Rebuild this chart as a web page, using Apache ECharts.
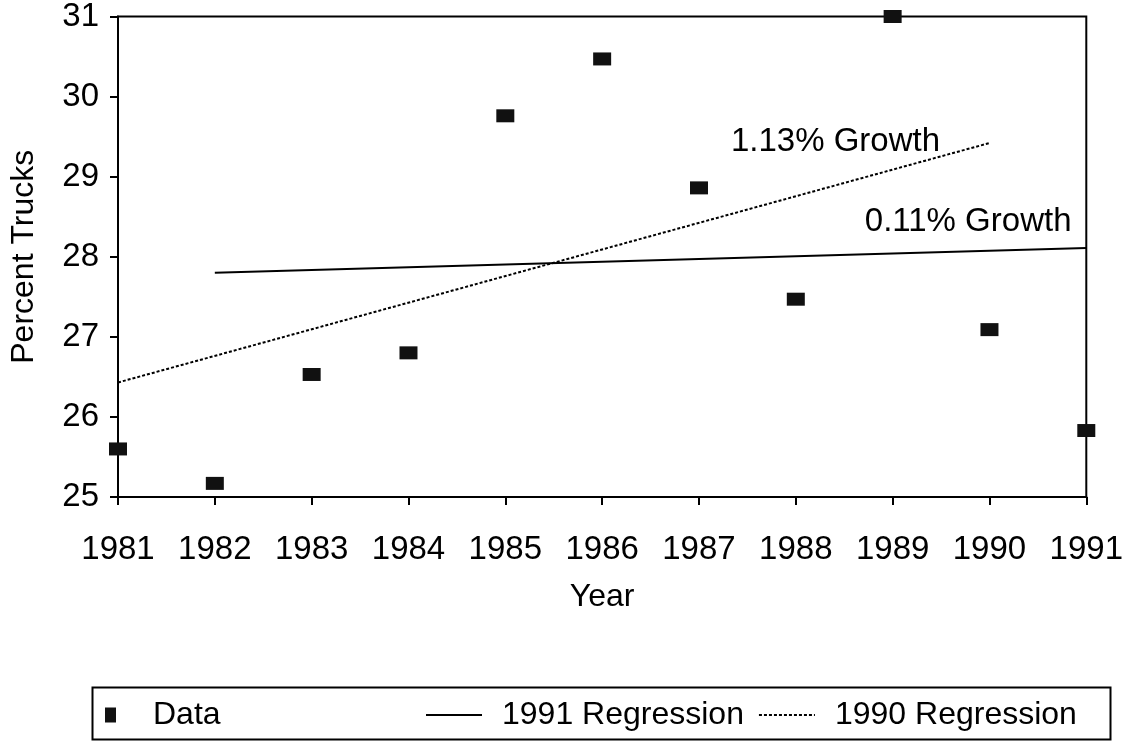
<!DOCTYPE html>
<html>
<head>
    <meta charset="utf-8">
    <title>Percent Trucks</title>
    <script src="https://cdn.jsdelivr.net/npm/echarts/dist/echarts.min.js"></script>
    <style>
        html, body { margin: 0; padding: 0; background: #fff; }
    </style>
</head>
<body>
<div id="main" style="width: 1126px; height: 753px;"></div>
<script type="text/javascript">
    // observed share of trucks per year
    var years = [1981, 1982, 1983, 1984, 1985, 1986, 1987, 1988, 1989, 1990, 1991];
    var percentTrucks = [25.60, 25.17, 26.53, 26.80, 29.76, 30.47, 28.86, 27.47, 31.00, 27.09, 25.83];

    // regression lines (end points)
    var reg1991Years = [1982, 1991];
    var reg1991Values = [27.80, 28.11];
    var reg1990Years = [1981, 1990];
    var reg1990Values = [26.43, 29.42];

    var growth1990 = '1.13% Growth';
    var growth1991 = '0.11% Growth';

    var font = 'Liberation Sans';
    var fs = 32;
    var tickFs = 33;

    function pairs(xs, ys) {
        var d = [];
        for (var i = 0; i < xs.length; i++) {
            d.push([xs[i], ys[i]]);
        }
        return d;
    }

    var myChart = echarts.init(document.getElementById('main'));

    var option = {
        backgroundColor: '#fff',
        animation: false,
        textStyle: { fontFamily: font, color: '#000' },
        grid: {
            left: 113,
            right: 30,
            top: 14,
            bottom: 256,
            show: true,
            borderColor: '#000',
            borderWidth: 2
        },
        xAxis: {
            type: 'value',
            min: 1981,
            max: 1991,
            interval: 1,
            name: 'Year',
            nameLocation: 'middle',
            nameGap: 84,
            nameTextStyle: { fontFamily: font, fontSize: fs, color: '#000' },
            axisLine: { lineStyle: { color: '#000', width: 2 } },
            axisTick: { length: 8, lineStyle: { color: '#000', width: 2 } },
            splitLine: { show: false },
            axisLabel: {
                margin: 36,
                fontFamily: font,
                fontSize: tickFs,
                color: '#000',
                formatter: function (v) { return String(v); }
            }
        },
        yAxis: {
            type: 'value',
            min: 25,
            max: 31,
            interval: 1,
            name: 'Percent Trucks',
            nameLocation: 'middle',
            nameGap: 78,
            nameTextStyle: { fontFamily: font, fontSize: fs, color: '#000' },
            axisLine: { lineStyle: { color: '#000', width: 2 } },
            axisTick: { length: 8, lineStyle: { color: '#000', width: 2 } },
            splitLine: { show: false },
            axisLabel: {
                margin: 19,
                fontFamily: font,
                fontSize: tickFs,
                color: '#000'
            }
        },
        legend: [
            {
                left: 100,
                top: 694,
                itemWidth: 11,
                itemHeight: 15,
                data: [{ name: 'Data', icon: 'rect' }],
                itemStyle: { color: '#111', opacity: 1 },
                textStyle: { fontFamily: font, fontSize: fs, color: '#000', padding: [0, 0, 0, 32] }
            },
            {
                left: 420,
                top: 694,
                itemWidth: 56,
                itemHeight: 14,
                itemGap: 14,
                data: ['1991 Regression', '1990 Regression'],
                itemStyle: { opacity: 0 },
                lineStyle: { inherit: true },
                textStyle: { fontFamily: font, fontSize: fs, color: '#000', padding: [0, 0, 0, 15] }
            }
        ],
        graphic: [
            {
                type: 'rect',
                left: 90,
                top: 685,
                shape: { width: 1018, height: 52 },
                style: { fill: 'none', stroke: '#000', lineWidth: 2 },
                silent: true
            }
        ],
        series: [
            {
                name: 'Data',
                type: 'scatter',
                data: pairs(years, percentTrucks),
                symbol: 'rect',
                symbolSize: [18, 13],
                itemStyle: { color: '#111', opacity: 1 },
                z: 1
            },
            {
                name: '1991 Regression',
                type: 'line',
                data: pairs(reg1991Years, reg1991Values),
                symbol: 'none',
                lineStyle: { color: '#000', width: 2, type: 'solid' },
                itemStyle: { color: '#000' },
                markPoint: {
                    symbol: 'circle',
                    symbolSize: 0,
                    data: [{ coord: [1989.78, 28.43], name: growth1991 }],
                    label: {
                        show: true,
                        position: 'inside',
                        formatter: growth1991,
                        fontFamily: font,
                        fontSize: tickFs,
                        color: '#000'
                    }
                }
            },
            {
                name: '1990 Regression',
                type: 'line',
                data: pairs(reg1990Years, reg1990Values),
                symbol: 'none',
                lineStyle: { color: '#000', width: 2, type: [3, 2] },
                itemStyle: { color: '#000' },
                markPoint: {
                    symbol: 'circle',
                    symbolSize: 0,
                    data: [{ coord: [1988.41, 29.43], name: growth1990 }],
                    label: {
                        show: true,
                        position: 'inside',
                        formatter: growth1990,
                        fontFamily: font,
                        fontSize: tickFs,
                        color: '#000'
                    }
                }
            }
        ]
    };

    myChart.setOption(option);
</script>
</body>
</html>
